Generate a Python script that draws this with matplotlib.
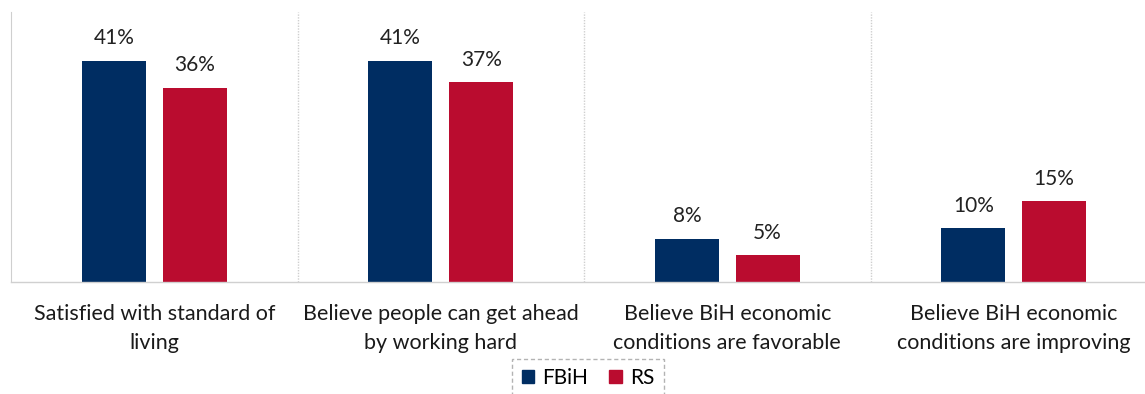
import matplotlib
matplotlib.use("Agg")
import matplotlib.pyplot as plt
from matplotlib.patches import Patch
import numpy as np

categories = [
    "Satisfied with standard of\nliving",
    "Believe people can get ahead\nby working hard",
    "Believe BiH economic\nconditions are favorable",
    "Believe BiH economic\nconditions are improving",
]
fbih = [41, 41, 8, 10]
rs = [36, 37, 5, 15]
series_names = ["FBiH", "RS"]
colors = ["#002D62", "#BA0C2F"]

plt.rcParams["font.family"] = ["Lato", "DejaVu Sans"]

W, H = 1145, 394
fig = plt.figure(figsize=(W / 100, H / 100), dpi=100)
left, right, top, bottom = 11, 1157, 12, 282
ax = fig.add_axes([left / W, 1 - bottom / H, (right - left) / W, (bottom - top) / H])

x = np.arange(len(categories))
bw = 0.223
off = 0.141
ax.bar(x - off, fbih, bw, color=colors[0], label=series_names[0])
ax.bar(x + off, rs, bw, color=colors[1], label=series_names[1])

for xs, vals in ((x - off, fbih), (x + off, rs)):
    for xi, v in zip(xs, vals):
        ax.annotate(f"{v}%", (xi, v), xytext=(0, 9), textcoords="offset points",
                    ha="center", va="bottom", fontsize=15, color="#222222")

ax.set_xlim(-0.5, len(categories) - 0.5)
ax.set_ylim(0, 50)
ax.set_yticks([])
ax.set_xticks(x)
ax.set_xticklabels(categories, fontsize=15.5, color="#1a1a1a", linespacing=1.58)
ax.tick_params(axis="x", length=0, pad=15.5)

for s in ["top", "right"]:
    ax.spines[s].set_visible(False)
ax.spines["left"].set_color("#cfcfcf")
ax.spines["left"].set_linestyle((0, (1, 1)))
ax.spines["bottom"].set_color("#d0d0d0")
ax.spines["bottom"].set_linewidth(1.0)

for b in np.arange(0.5, len(categories) - 0.5, 1.0):
    ax.axvline(b, color="#cfcfcf", lw=1.0, ls=(0, (1, 1)))

handles = [Patch(color=c, label=n) for c, n in zip(colors, series_names)]
leg = fig.legend(handles=handles, loc="center", bbox_to_anchor=(588 / W, 1 - 378 / H),
                 ncol=2, frameon=True, fontsize=15, handlelength=0.6, handleheight=0.6,
                 handletextpad=0.4, columnspacing=1.0, borderpad=0.45, fancybox=False)
frame = leg.get_frame()
frame.set_edgecolor("#a0a0a0")
frame.set_linestyle((0, (3, 2)))
frame.set_linewidth(1.0)

fig.savefig("out.png", dpi=100)
